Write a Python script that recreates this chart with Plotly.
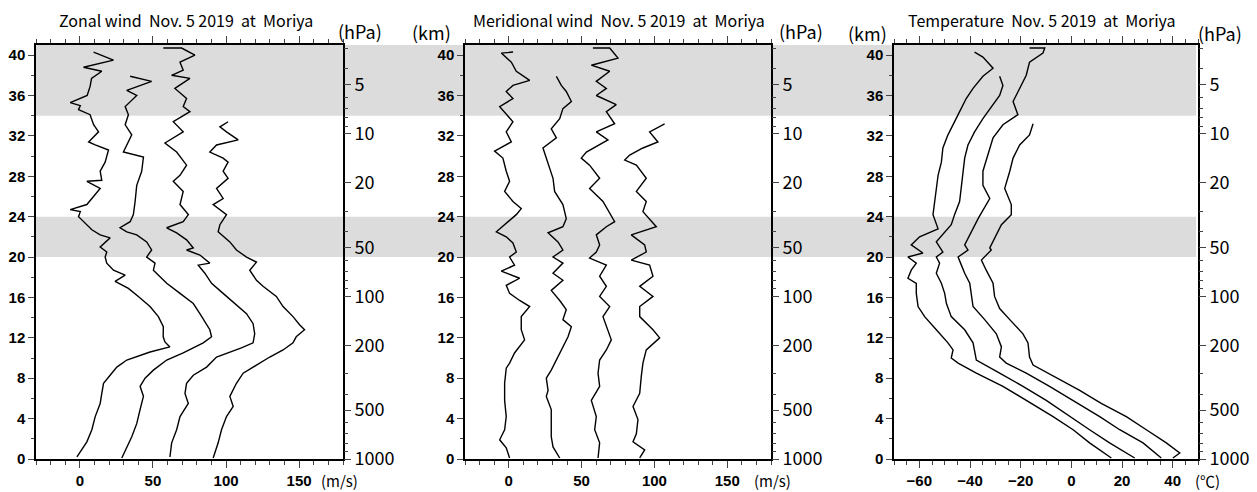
import math
import plotly.graph_objects as go

# ---------------- data (km, value) ----------------
zonal_1 = [(40.3,9.4),(39.5,23),(38.8,2.5),(38.4,15),(37.7,8),(36.9,7),(36.0,5),(35.3,-6.6),(35.0,0.3),(34.6,-0.9),
           (34.1,7),(33.1,9.4),(32.4,12.8),(31.4,6),(31.1,10.5),(30.6,19.6),(29.4,17.3),(28.5,13.9),(27.6,15),(27.5,4.8),
           (26.8,13.9),(25.8,8.2),(25.2,4.8),(24.7,-6.6),(24.5,0.3),(24.0,-0.9),(23.2,4.8),(22.7,8.2),(22.2,13.9),(21.9,20.7),
           (21.0,13.9),(20.5,18.4),(20.0,17.3),(19.4,18.4),(18.7,23),(18.2,31),(17.6,24.1),(16.9,33.2),(16.1,40),(15.1,48),
           (14.1,53.7),(13.1,57.1),(12.1,57),(11.6,58.2),(11.1,61.6),(10.6,48),(9.8,32.1),(9.1,25.3),(8.3,20.7),(7.5,16.2),
           (6.5,15),(5.5,13.9),(4.2,10.5),(2.9,8.2),(1.7,4.8),(0.9,1.4),(0.2,-2)]
zonal_2 = [(37.9,34.4),(37.4,49.1),(36.5,32.1),(36.0,38.9),(34.9,31),(34.1,33.2),(33.1,31),(32.1,35.5),(30.4,29.8),(30.1,38.9),
           (29.9,43.5),(28.5,42.3),(27.1,38.9),(25.5,37.8),(24.2,36.6),(23.5,34.4),(22.9,27.5),(22.5,32.1),(22.2,38.9),(21.5,45.7),
           (20.7,49.1),(20.0,45.7),(19.4,51.4),(18.7,50.3),(18.1,54.8),(17.4,59.4),(16.4,68.5),(15.4,77.6),(14.4,82.1),(13.4,86.7),
           (12.8,88.9),(12.1,90.1),(11.5,84.4),(10.5,70.7),(9.8,59.4),(8.8,50.3),(8.0,44.6),(7.2,41.2),(6.2,43.5),(4.9,41.2),
           (3.5,38.9),(2.2,35.5),(1.2,32.1),(0.1,28.7)]
zonal_3 = [(40.7,57.1),(40.7,69.6),(40.0,78.7),(39.3,68.5),(38.5,70.7),(38.0,62.8),(37.7,75.3),(36.7,65),(35.7,73),(34.9,70.7),
           (34.4,75.3),(33.4,63.9),(32.4,70.7),(31.3,58.2),(30.4,66.2),(29.1,73),(28.1,68.5),(27.5,63.9),(26.5,70.7),(25.2,68.5),
           (24.2,74.2),(23.5,70.7),(22.9,59.4),(22.4,66.2),(21.7,73),(20.9,77.6),(20.7,73),(20.2,82.1),(19.4,88.9),(19.2,81),
           (18.4,85.5),(17.4,90.1),(16.4,98),(15.4,106),(14.4,114),(13.4,118.5),(12.4,119.6),(11.5,118.5),(11.0,110.5),(10.1,93.5),
           (9.1,86.7),(8.3,77.6),(7.5,73),(6.5,71.9),(5.5,74.2),(4.2,68.5),(2.9,66.2),(1.6,62.8),(0.2,61.6)]
zonal_4 = [(33.4,101.4),(32.9,95.8),(32.4,100.3),(31.6,108.3),(31.1,93.5),(30.4,88.9),(29.8,98),(29.4,101.4),(28.5,98),(27.8,101.4),
           (26.8,93.5),(25.8,98),(25.2,91.2),(24.2,100.3),(23.2,95.8),(22.5,94.6),(21.5,102.6),(20.7,107.1),(20.0,114),(19.5,120.8),
           (18.7,116.2),(17.7,120.8),(17.1,125.3),(16.1,134.4),(15.1,139),(14.1,145.8),(13.3,150.3),(12.8,153.7),(12.1,148),(11.5,145.8),
           (10.8,139),(10.1,129.9),(9.3,120.8),(8.5,111.7),(7.5,107.1),(6.2,102.6),(5.2,104.9),(4.2,100.3),(2.9,96.9),(1.6,94.6),
           (0.1,91.2)]

merid_1 = [(40.3,3),(40.2,-5.1),(39.3,1.8),(38.4,5.2),(37.5,14.4),(37.0,2.9),(36.4,-1.7),(35.7,2.9),(34.9,-6.2),(34.1,-1.7),
           (33.4,2.9),(32.4,-1.7),(31.4,1.8),(30.5,-9.7),(29.8,-4),(28.5,-1.7),(27.5,0.6),(26.5,-2.8),(25.5,2.9),(24.8,8.6),
           (24.2,5.2),(22.5,-8.5),(22.0,-1.7),(21.4,2.9),(20.5,5.2),(20.0,0.6),(19.2,4),(18.6,-5.1),(17.9,7.5),(17.2,-1.7),
           (16.4,0.6),(15.7,7.5),(15.1,14.4),(14.1,8.6),(12.8,8.6),(11.8,10.9),(10.5,4),(9.5,0.6),(9.0,-1.7),(7.5,-2.8),
           (5.8,-2.8),(4.2,-1.7),(2.9,-2.8),(1.9,-6.2),(1.1,-1.7),(0.1,0.6)]
merid_2 = [(37.9,32.7),(37.0,36.1),(36.4,39.5),(35.4,43),(34.7,37.2),(33.7,35),(32.7,29.2),(31.8,32.7),(30.8,23.5),(29.8,25.8),
           (28.8,28.1),(27.8,30.4),(26.5,31.5),(25.2,37.2),(23.8,39.5),(23.0,37.2),(22.4,27),(21.5,33.8),(20.7,37.2),(20.0,30.4),
           (19.4,37.2),(18.4,30.4),(17.7,37.2),(16.7,29.2),(15.7,35),(14.8,39.5),(13.8,37.2),(13.1,43),(12.1,40.7),(11.1,37.2),
           (9.8,32.7),(8.8,29.2),(8.0,25.8),(6.8,27),(6.2,25.8),(4.9,29.2),(3.5,29.2),(2.2,29.2),(1.2,30.4),(0.1,35)]
merid_3 = [(40.7,57.8),(40.7,69.3),(39.7,75),(39.0,56.7),(38.4,69.3),(37.4,60.1),(36.7,67),(36.0,60.1),(35.1,73.8),(34.4,67),
           (33.2,72.7),(32.4,60.1),(31.6,68.1),(30.4,53.3),(29.8,49.8),(29.1,55.5),(27.8,62.4),(26.8,55.5),(25.5,64.7),(23.5,72.7),
           (23.0,67),(22.2,60.1),(21.2,62.4),(20.5,60.1),(19.9,55.5),(19.2,67),(18.1,62.4),(17.1,67),(16.1,62.4),(15.1,69.3),
           (14.1,64.7),(12.8,68.1),(11.8,70.4),(10.8,67),(9.8,62.4),(8.5,61.3),(7.2,62.4),(5.8,56.7),(4.2,60.1),(2.9,59),
           (1.6,62.4),(0.1,61.3)]
merid_4 = [(33.2,107),(32.4,96.7),(31.4,102.4),(30.8,92.1),(30.1,83),(29.6,79.6),(29.1,87.6),(27.8,94.4),(26.5,87.6),(25.5,94.4),
           (24.5,92.1),(23.0,101.3),(22.2,84.1),(21.2,93.3),(20.5,94.4),(19.7,84.1),(19.2,96.7),(18.1,99),(17.1,89.9),(16.1,99),
           (15.1,89.9),(14.1,89.9),(12.8,99),(12.0,103.6),(10.8,94.4),(9.5,92.1),(8.2,91),(6.5,89.9),(5.2,85.3),(3.9,88.7),
           (2.5,87.6),(1.7,85.3),(0.9,93.3),(0.1,89.9)]

temp_1 = [(40.3,-38.2),(39.8,-34.9),(38.7,-30.9),(37.9,-34.9),(36.7,-38.8),(35.7,-41.5),(34.4,-44.1),(33.1,-46.7),(32.1,-48.7),(30.8,-50.7),
          (29.4,-51.3),(28.1,-52.6),(26.8,-53.3),(25.5,-53.9),(24.2,-54.6),(22.8,-52.6),(22.0,-59.9),(21.2,-63.2),(20.4,-58.6),(20.0,-64.5),
          (19.4,-61.2),(18.7,-63.2),(17.9,-64.5),(17.4,-61.2),(16.4,-61.2),(15.1,-60.5),(14.1,-57.9),(12.8,-53.3),(11.5,-48.7),(10.8,-46.7),
          (10.0,-47.4),(9.5,-44.7),(8.5,-37.5),(7.2,-27),(5.8,-17.8),(4.2,-7.2),(2.9,0.7),(1.6,7.2),(0.1,15.8)]
temp_2 = [(37.9,-28.3),(37.0,-27),(36.0,-28.3),(34.9,-31.6),(33.7,-34.9),(32.4,-38.2),(31.1,-40.8),(29.8,-42.1),(28.1,-42.8),(26.8,-43.4),
          (25.5,-44.1),(24.2,-46.1),(23.2,-47.4),(21.5,-53.3),(20.5,-50.7),(20.0,-53.3),(19.4,-52),(18.4,-53.3),(17.4,-51.3),(16.4,-50),
          (15.4,-49.3),(14.1,-47.4),(12.8,-42.1),(11.5,-38.8),(10.8,-38.2),(9.8,-37.5),(8.5,-28.3),(7.2,-19.1),(5.8,-9.9),(4.2,-0.7),
          (2.9,7.2),(1.6,15.1),(0.1,25)]
temp_3 = [(40.7,-16.5),(40.7,-10.5),(40.2,-11.2),(39.3,-16.5),(38.0,-17.8),(36.7,-20.4),(35.4,-23),(34.1,-21.1),(33.1,-27),(31.8,-30.9),
          (30.1,-32.9),(28.5,-34.9),(27.1,-34.9),(25.8,-32.2),(23.8,-36.8),(22.8,-38.8),(21.2,-42.1),(20.7,-40.8),(20.0,-44.7),(19.2,-43.4),
          (18.4,-42.1),(17.4,-40.1),(16.4,-39.5),(15.1,-38.8),(13.8,-34.2),(12.4,-29.6),(11.1,-27.6),(10.1,-28.3),(9.5,-25.7),(8.5,-17.8),
          (7.2,-8.6),(5.8,0.7),(4.2,11.2),(2.9,19.1),(1.6,28.3),(0.1,35.5)]
temp_4 = [(33.2,-15.1),(32.1,-16.5),(31.1,-20.4),(29.8,-23),(28.5,-24.3),(26.8,-26.3),(25.2,-23.7),(24.2,-23.7),(23.2,-27.6),(22.2,-29.6),
          (20.9,-32.2),(20.7,-31.6),(19.7,-35.5),(18.7,-33.6),(17.4,-30.9),(16.1,-30.3),(14.9,-28.3),(13.8,-24.3),(12.4,-19.1),(11.5,-17.1),
          (10.1,-16.5),(9.3,-15.1),(8.2,-7.2),(6.8,3.3),(5.5,11.8),(4.2,21.7),(2.9,29.6),(1.6,37.5),(0.6,42.8),(0.1,40.1)]

titles = ["Zonal wind\u00a0\u00a0Nov.\u00a05\u00a02019\u00a0\u00a0at\u00a0\u00a0Moriya",
          "Meridional wind\u00a0\u00a0Nov.\u00a05\u00a02019\u00a0\u00a0at\u00a0\u00a0Moriya",
          "Temperature\u00a0\u00a0Nov.\u00a05\u00a02019\u00a0\u00a0at\u00a0\u00a0Moriya"]
units = ["(m/s)", "(m/s)", "(\u2103)"]
km_ticks = [0, 4, 8, 12, 16, 20, 24, 28, 32, 36, 40]
wind_ticks = [0, 50, 100, 150]
temp_ticks = [-60, -40, -20, 0, 20, 40]
p_labels = [1000, 500, 200, 100, 50, 20, 10, 5]
p_minor = [900, 800, 700, 600, 400, 300, 90, 80, 70, 60, 40, 30, 9, 8, 7, 6, 4, 3]
shade_bands = [(34, 41), (20, 24)]

# ---------------- layout helpers ----------------
W, H = 1257, 492
def px(x): return x / W
def py(y): return 1 - y / H
SCALE_H = 7.0
def p2km(p): return SCALE_H * math.log(1000.0 / p)

YRANGE = [0, 41]
ydom = [py(459), py(45)]
xdoms = [[px(36), px(343)], [px(465), px(771)], [px(894), px(1198)]]
xranges = [[-30, 180], [-30, 180], [-70, 50]]
xticks = [wind_ticks, wind_ticks, temp_ticks]
xminor = [10, 10, 5]
panels = [[zonal_1, zonal_2, zonal_3, zonal_4],
          [merid_1, merid_2, merid_3, merid_4],
          [temp_1, temp_2, temp_3, temp_4]]

NARROW = "Liberation Sans Narrow, Liberation Sans, Arial Narrow, sans-serif"
JPFONT = "Noto Sans CJK JP, Noto Sans, sans-serif"

def fmt_num(v):
    return "<b>" + (str(v) if v >= 0 else "\u2212" + str(-v)) + "</b>"

fig = go.Figure()
layout = dict(width=W, height=H, margin=dict(l=0, r=0, t=0, b=0, autoexpand=False),
              paper_bgcolor="white", plot_bgcolor="rgba(0,0,0,0)", showlegend=False)

for i in range(3):
    xa = "x" if i == 0 else f"x{i+1}"
    yl = 2 * i + 1
    yr = 2 * i + 2
    yl_name = "y" if yl == 1 else f"y{yl}"
    for prof in panels[i]:
        fig.add_trace(go.Scatter(x=[v for _, v in prof], y=[k for k, _ in prof],
                                 mode="lines", line=dict(color="black", width=1.4),
                                 xaxis=xa, yaxis=yl_name, hoverinfo="skip"))
    # invisible anchor trace so that the right-hand pressure axis is drawn
    fig.add_trace(go.Scatter(x=[xranges[i][0]], y=[0], mode="markers",
                             marker=dict(opacity=0, size=1), xaxis=xa, yaxis=f"y{yr}",
                             hoverinfo="skip"))
    layout[f"xaxis{'' if i == 0 else i+1}"] = dict(
        domain=xdoms[i], range=xranges[i], anchor=yl_name, automargin=False,
        tickmode="array", tickvals=xticks[i], ticktext=[fmt_num(v) for v in xticks[i]],
        ticks="outside", ticklen=7, tickwidth=1,
        showline=True, linecolor="black", linewidth=1.5, mirror="ticks",
        showgrid=False, zeroline=False, tickfont=dict(family=NARROW, size=15, color="black"),
        minor=dict(dtick=xminor[i], tick0=0, ticks="outside", ticklen=4, tickwidth=1, showgrid=False))
    layout[f"yaxis{'' if yl == 1 else yl}"] = dict(
        domain=ydom, range=YRANGE, anchor=xa, automargin=False,
        tickmode="array", tickvals=km_ticks, ticktext=[fmt_num(v) for v in km_ticks],
        ticks="outside", ticklen=6, tickwidth=1,
        showline=True, linecolor="black", linewidth=1.5, mirror=True,
        showgrid=False, zeroline=False, tickfont=dict(family=NARROW, size=15, color="black"),
        minor=dict(dtick=2, tick0=0, ticks="outside", ticklen=3, tickwidth=1, showgrid=False))
    layout[f"yaxis{yr}"] = dict(
        domain=ydom, range=YRANGE, anchor=xa, overlaying=yl_name, side="right", automargin=False,
        tickmode="array", tickvals=[p2km(p) for p in p_labels], ticktext=[str(p) for p in p_labels],
        ticks="outside", ticklen=7, tickwidth=1, showline=False, showgrid=False, zeroline=False,
        tickfont=dict(family=JPFONT, size=18, color="black"),
        minor=dict(tickmode="array", tickvals=[p2km(p) for p in p_minor], ticks="outside",
                   ticklen=4, tickwidth=1, showgrid=False))

fig.update_layout(**layout)

# shaded layers spanning all three panels
for lo, hi in shade_bands:
    fig.add_shape(type="rect", xref="paper", yref="y", x0=px(36), x1=px(1196), y0=lo, y1=hi,
                  fillcolor="#dcdcdc", line=dict(width=0), layer="below")

# text annotations
title_x = [186, 619, 1042]
for i in range(3):
    fig.add_annotation(text=titles[i], x=px(title_x[i]), y=py(20), xref="paper", yref="paper",
                       showarrow=False, xanchor="center", yanchor="middle",
                       font=dict(family=JPFONT, size=16, color="black"))
for xc, yc in [(360, 31), (801, 31), (1220, 33)]:
    fig.add_annotation(text="(hPa)", x=px(xc), y=py(yc), xref="paper", yref="paper",
                       showarrow=False, xanchor="center", yanchor="middle",
                       font=dict(family=JPFONT, size=18, color="black"))
for xc, yc in [(432, 32), (867, 33)]:
    fig.add_annotation(text="(km)", x=px(xc), y=py(yc), xref="paper", yref="paper",
                       showarrow=False, xanchor="center", yanchor="middle",
                       font=dict(family=JPFONT, size=18, color="black"))
for i, xc in enumerate([339, 772, 1207]):
    fig.add_annotation(text=units[i], x=px(xc), y=py(480), xref="paper", yref="paper",
                       showarrow=False, xanchor="center", yanchor="middle",
                       font=dict(family=JPFONT, size=15, color="black"))

fig.write_html("out.html")
